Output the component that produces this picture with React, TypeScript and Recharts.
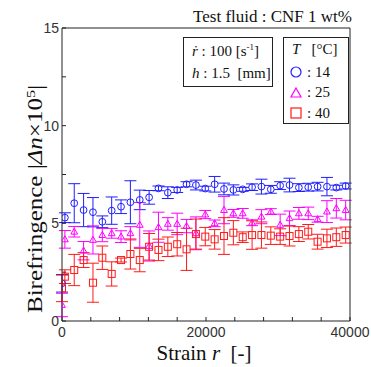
import { ScatterChart, Scatter, XAxis, YAxis, ErrorBar } from "recharts"

// strain r [-]
const strain = [
  0, 400, 1700, 3000, 4300, 5600, 6900, 8200, 9500, 10800, 12100, 13400, 14700, 16000, 17300, 18600,
  19900, 21200, 22500, 23800, 25100, 26400, 27700, 29000, 30300, 31600, 32900, 34200, 35500, 36800, 38100, 39400,
]

// T = 14 °C
const blue = [
  1.93, 5.29, 6.03, 5.68, 5.57, 5.08, 5.65, 5.85, 6.08, 6.2, 6.33, 6.79, 6.57, 6.71, 7.0, 6.96,
  6.78, 7.0, 6.76, 6.71, 6.74, 6.85, 6.88, 6.74, 6.93, 6.96, 6.83, 6.85, 6.88, 6.88, 6.83, 6.91,
]
const blueErr = [
  0.45, 0.25, 1.0, 0.85, 0.75, 0.3, 0.7, 0.35, 1.1, 0.5, 0.35, 0.12, 0.3, 0.13, 0.13, 0.25,
  0.12, 0.4, 0.3, 0.26, 0.1, 0.17, 0.38, 0.2, 0.2, 0.35, 0.2, 0.2, 0.22, 0.47, 0.12, 0.15,
]

// T = 25 °C
const magenta = [
  0.82, 4.18, 4.57, 3.6, 4.15, 4.4, 4.49, 4.32, 4.49, 4.92, 3.84, 4.8, 4.97, 4.97, 4.86, 4.49,
  5.45, 5.0, 5.68, 5.51, 5.51, 5.03, 5.34, 5.6, 4.92, 5.26, 5.51, 5.51, 5.21, 5.6, 5.77, 5.68,
]
const magentaErr = [
  0.6, 0.45, 0.27, 0.47, 0.72, 0.34, 0.25, 0.3, 0.34, 1.15, 0.77, 0.77, 0.32, 0.55, 0.34, 0.84,
  0.21, 0.17, 0.7, 0.2, 0.25, 0.15, 0.36, 0.15, 0.55, 0.37, 0.3, 0.32, 0.15, 0.56, 0.5, 0.5,
]

// T = 40 °C
const red = [
  1.67, 2.27, 2.61, 3.12, 1.96, 3.24, 2.41, 3.12, 3.43, 3.12, 3.8, 3.64, 3.8, 3.93, 3.67, 4.45,
  4.32, 4.18, 4.35, 4.52, 4.29, 4.4, 4.4, 4.37, 4.32, 4.35, 4.45, 4.57, 4.06, 4.23, 4.29, 4.4,
]
const redErr = [
  0.68, 0.35, 0.8, 0.38, 1.0, 0.6, 0.62, 0.1, 0.77, 0.6, 0.68, 0.55, 0.5, 0.6, 1.08, 0.77,
  0.47, 0.5, 0.94, 0.62, 0.27, 0.73, 0.67, 0.45, 0.4, 0.51, 0.38, 0.37, 0.38, 0.47, 0.47, 0.41,
]

const xTicks = [0, 4000, 8000, 12000, 16000, 20000, 24000, 28000, 32000, 36000, 40000]
const xLabels = [0, 20000, 40000]
const yTicks = [0, 2.5, 5, 7.5, 10, 12.5, 15]
const yLabels = [0, 5, 10, 15]

const BLUE = "#1f1fff"
const MAGENTA = "#ff00ff"
const RED = "#ff1a1a"

const toPoints = (vals: number[], errs: number[]) => strain.map((x, i) => ({ x, y: vals[i], err: errs[i] }))

const serif = "'Liberation Serif', 'Times New Roman', serif"
const sans = "'Liberation Sans', Arial, sans-serif"

const Circle = (props: any) => <circle cx={props.cx} cy={props.cy} r={3.4} fill="none" stroke={BLUE} strokeWidth={1} />
const Tri = (props: any) => {
  const { cx, cy } = props
  return <polygon points={`${cx},${cy - 3.6} ${cx - 3.4},${cy + 2.4} ${cx + 3.4},${cy + 2.4}`} fill="none" stroke={MAGENTA} strokeWidth={1} />
}
const Sq = (props: any) => <rect x={props.cx - 3.5} y={props.cy - 3.5} width={7} height={7} fill="none" stroke={RED} strokeWidth={1} />

const axisTick = { fontSize: 14, fill: "#333", fontFamily: sans }

export default function App() {
  return (
    <div style={{ position: "absolute", left: 0, top: 0, width: 371, height: 367, background: "#fff" }}>
      <ScatterChart width={371} height={367} margin={{ top: 23, right: 16, bottom: 16, left: 22 }}>
        <XAxis
          type="number"
          dataKey="x"
          domain={[0, 40000]}
          ticks={xTicks}
          interval={0}
          height={30}
          allowDataOverflow
          stroke="#222"
          tickSize={-4}
          tickMargin={10}
          tick={axisTick}
          tickFormatter={(v: number) => (xLabels.includes(v) ? String(v) : "")}
        />
        <XAxis
          xAxisId="top"
          orientation="top"
          type="number"
          domain={[0, 40000]}
          ticks={xTicks}
          interval={0}
          height={5}
          stroke="#222"
          tickSize={-4}
          tickFormatter={() => ""}
        />
        <YAxis
          type="number"
          dataKey="y"
          domain={[0, 15]}
          ticks={yTicks}
          interval={0}
          width={40}
          allowDataOverflow
          stroke="#222"
          tickSize={-4}
          tickMargin={7}
          tick={axisTick}
          tickFormatter={(v: number) => (yLabels.includes(v) ? String(v) : "")}
        />
        <YAxis
          yAxisId="right"
          orientation="right"
          type="number"
          domain={[0, 15]}
          ticks={yTicks}
          interval={0}
          width={5}
          stroke="#222"
          tickSize={-4}
          tickFormatter={() => ""}
        />
        <Scatter data={toPoints(blue, blueErr)} shape={<Circle />} isAnimationActive={false}>
          <ErrorBar dataKey="err" direction="y" width={6} stroke={BLUE} strokeWidth={1} />
        </Scatter>
        <Scatter data={toPoints(magenta, magentaErr)} shape={<Tri />} isAnimationActive={false}>
          <ErrorBar dataKey="err" direction="y" width={6} stroke={MAGENTA} strokeWidth={1} />
        </Scatter>
        <Scatter data={toPoints(red, redErr)} shape={<Sq />} isAnimationActive={false}>
          <ErrorBar dataKey="err" direction="y" width={6} stroke={RED} strokeWidth={1} />
        </Scatter>
      </ScatterChart>

      {/* title */}
      <div style={{ position: "absolute", right: 19, top: 7, fontFamily: serif, fontSize: 17, color: "#111", whiteSpace: "nowrap" }}>
        Test fluid : CNF 1 wt%
      </div>

      {/* y label */}
      <div
        style={{
          position: "absolute",
          left: 36 - 140,
          top: 199 - 13,
          width: 280,
          height: 26,
          lineHeight: "26px",
          textAlign: "center",
          transform: "rotate(-90deg) scaleY(0.8)",
          fontFamily: serif,
          fontSize: 25,
          color: "#111",
          whiteSpace: "nowrap",
        }}
      >
        Birefringence |<i>Δn</i>×10<sup style={{ fontSize: 16, verticalAlign: "9px", lineHeight: 0 }}>5</sup>|
      </div>

      {/* x label */}
      <div
        style={{
          position: "absolute",
          left: 204 - 80,
          top: 341,
          width: 160,
          textAlign: "center",
          fontFamily: serif,
          fontSize: 21,
          color: "#111",
          whiteSpace: "pre",
        }}
      >
        Strain <i>r</i>  [-]
      </div>

      {/* condition box */}
      <div
        style={{
          position: "absolute",
          left: 183,
          top: 37,
          width: 88,
          height: 48,
          border: "1px solid #222",
          background: "#fff",
          fontFamily: serif,
          fontSize: 15,
          color: "#111",
          whiteSpace: "pre",
        }}
      >
        <div style={{ position: "absolute", left: 8, top: 5 }}>
          <i>ṙ</i> : 100 [s<sup style={{ fontSize: 9, lineHeight: 0 }}>-1</sup>]
        </div>
        <div style={{ position: "absolute", left: 8, top: 27 }}>
          <i>h</i> : 1.5  [mm]
        </div>
      </div>

      {/* temperature legend */}
      <div
        style={{
          position: "absolute",
          left: 283,
          top: 37,
          width: 64,
          height: 85,
          border: "1px solid #222",
          background: "#fff",
          fontFamily: serif,
          fontSize: 15,
          color: "#111",
          whiteSpace: "pre",
        }}
      >
        <div style={{ position: "absolute", left: 8, top: 3 }}>
          <i>T</i>   [°C]
        </div>
        {[
          { c: BLUE, t: ": 14", k: "c" },
          { c: MAGENTA, t: ": 25", k: "t" },
          { c: RED, t: ": 40", k: "s" },
        ].map((e, i) => (
          <div key={e.k} style={{ position: "absolute", left: 5, top: 25 + i * 20.5, height: 18, display: "flex", alignItems: "center" }}>
            <svg width={14} height={14}>
              {e.k === "c" && <circle cx={7} cy={7} r={5} fill="none" stroke={e.c} strokeWidth={1.2} />}
              {e.k === "t" && <polygon points="7,2 12,11 2,11" fill="none" stroke={e.c} strokeWidth={1.2} />}
              {e.k === "s" && <rect x={2} y={2} width={10} height={10} fill="none" stroke={e.c} strokeWidth={1.2} />}
            </svg>
            <span style={{ marginLeft: 4 }}>{e.t}</span>
          </div>
        ))}
      </div>
    </div>
  )
}
